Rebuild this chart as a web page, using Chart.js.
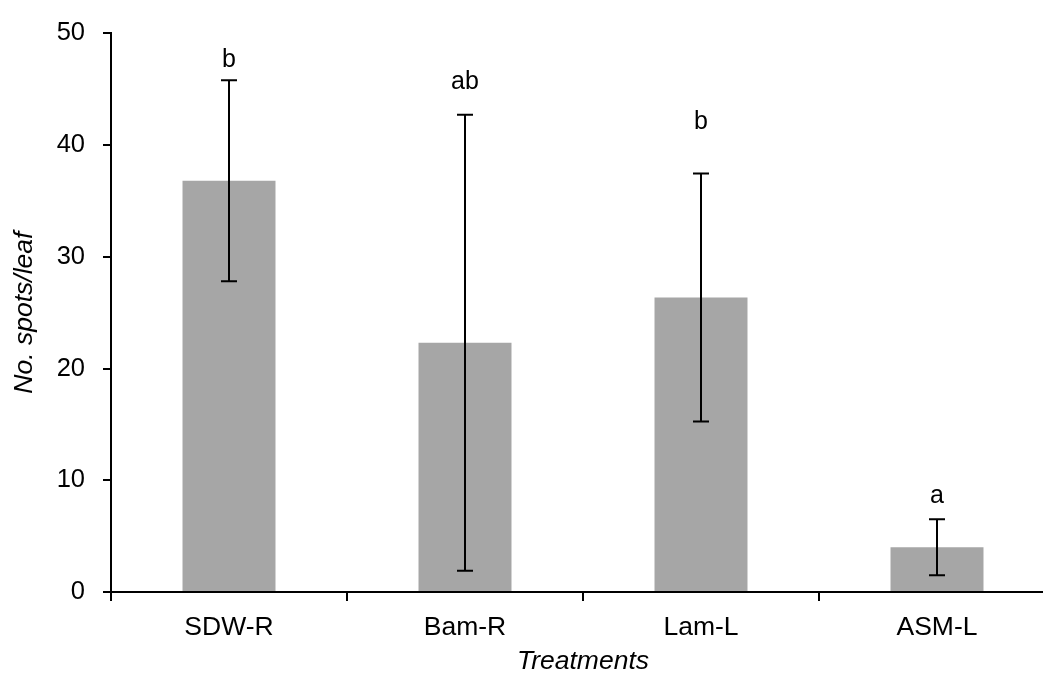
<!DOCTYPE html>
<html>
<head>
<meta charset="utf-8">
<script src="https://cdn.jsdelivr.net/npm/chart.js@4/dist/chart.umd.min.js"></script>
<style>
  html, body { margin: 0; padding: 0; background: #fff; overflow: hidden; }
  #wrap { width: 1060px; height: 673px; }
</style>
</head>
<body>
<div id="wrap"><canvas id="chart" width="1060" height="673"></canvas></div>
<script>
'use strict';

// Data
const categories = ['SDW-R', 'Bam-R', 'Lam-L', 'ASM-L'];
const spotMeans = [36.8, 22.3, 26.35, 4.0];
const spotErrors = [9.0, 20.4, 11.1, 2.5];
const groupLetters = ['b', 'ab', 'b', 'a'];
const letterLevels = [47.0, 45.0, 41.4, 7.95]; // baseline of each letter, in axis units
const yTicks = [0, 10, 20, 30, 40, 50];

const fontFamily = '"Liberation Sans", Arial, Helvetica, sans-serif';
const barColor = '#a6a6a6';

// error bars + significance letters
const annotatePlugin = {
    id: 'annotate',
    afterDatasetsDraw(chart) {
        const ctx = chart.ctx;
        const x = chart.scales.x;
        const y = chart.scales.y;
        ctx.save();
        ctx.strokeStyle = '#000';
        ctx.lineWidth = 2;
        spotMeans.forEach((m, i) => {
            const px = x.getPixelForValue(i);
            const top = y.getPixelForValue(m + spotErrors[i]);
            const bot = y.getPixelForValue(m - spotErrors[i]);
            ctx.beginPath();
            ctx.moveTo(px, top);
            ctx.lineTo(px, bot);
            ctx.moveTo(px - 8, top);
            ctx.lineTo(px + 8, top);
            ctx.moveTo(px - 8, bot);
            ctx.lineTo(px + 8, bot);
            ctx.stroke();
        });
        ctx.fillStyle = '#000';
        ctx.font = '25px ' + fontFamily;
        ctx.textAlign = 'center';
        ctx.textBaseline = 'alphabetic';
        groupLetters.forEach((t, i) => {
            ctx.fillText(t, x.getPixelForValue(i), y.getPixelForValue(letterLevels[i]));
        });
        ctx.restore();
    }
};

const chartElement = document.getElementById('chart');
const spotsChart = new Chart(chartElement.getContext('2d'), {
    type: 'bar',
    data: {
        labels: categories,
        datasets: [{
            data: spotMeans,
            backgroundColor: barColor,
            borderWidth: 0,
            barPercentage: 0.394,
            categoryPercentage: 1
        }]
    },
    options: {
        responsive: false,
        animation: false,
        devicePixelRatio: 1,
        layout: { padding: { top: 25, right: 5, left: 0, bottom: 0 } },
        plugins: {
            legend: { display: false },
            tooltip: { enabled: false }
        },
        scales: {
            x: {
                afterFit(scale) { scale.height = 81; },
                border: { display: true, color: '#000', width: 2 },
                grid: {
                    drawOnChartArea: false,
                    drawTicks: true,
                    tickLength: 9,
                    color: '#000',
                    lineWidth: 2
                },
                ticks: {
                    color: '#000',
                    padding: 11,
                    maxRotation: 0,
                    font: { family: fontFamily, size: 26.5 }
                },
                title: {
                    display: true,
                    text: 'Treatments',
                    color: '#000',
                    padding: 0,
                    font: { family: fontFamily, size: 26.5, style: 'italic', lineHeight: 0.85 }
                }
            },
            y: {
                min: 0,
                max: 50,
                afterFit(scale) { scale.width = 111; },
                afterBuildTicks(scale) { scale.ticks = yTicks.map(v => ({ value: v })); },
                border: { display: true, color: '#000', width: 2 },
                grid: {
                    drawOnChartArea: false,
                    drawTicks: true,
                    tickLength: 8,
                    color: '#000',
                    lineWidth: 2
                },
                ticks: {
                    color: '#000',
                    padding: 18,
                    font: { family: fontFamily, size: 25.5 }
                },
                title: {
                    display: true,
                    text: 'No. spots/leaf',
                    color: '#000',
                    padding: { top: 13, bottom: 0 },
                    font: { family: fontFamily, size: 26.5, style: 'italic', lineHeight: 0.85 }
                }
            }
        }
    },
    plugins: [annotatePlugin]
});
</script>
</body>
</html>
